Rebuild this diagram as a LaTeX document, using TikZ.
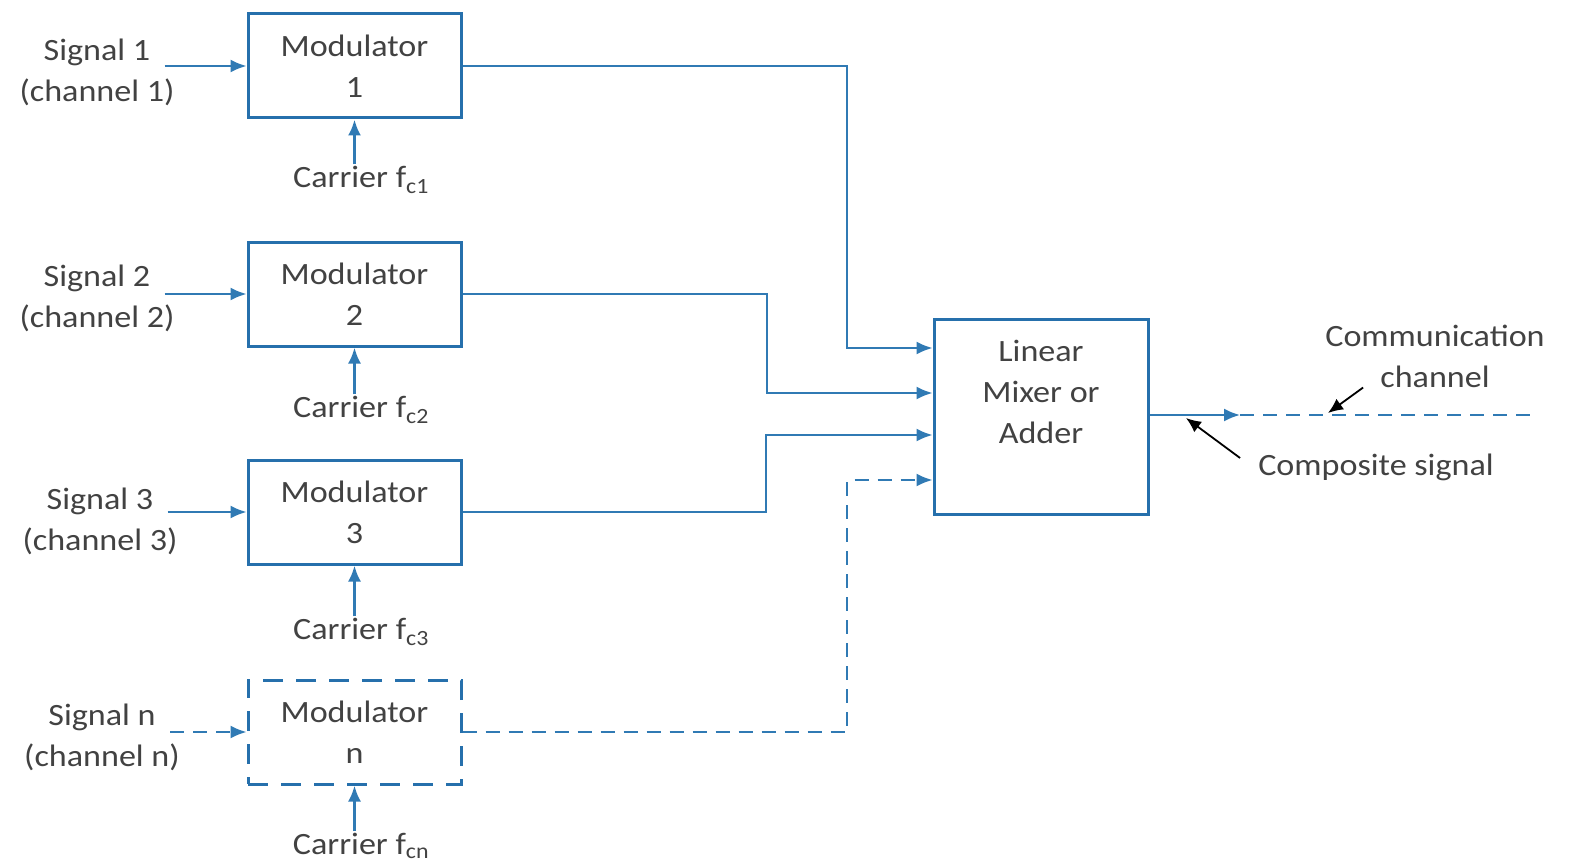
\documentclass[tikz,border=0pt]{standalone}
\usepackage{fontspec}
\setmainfont{Carlito}[FakeStretch=1.1]
\usepackage{tikz}
\usetikzlibrary{arrows.meta,positioning,calc}
\definecolor{BoxBlue}{RGB}{38,112,172}
\definecolor{LineBlue}{RGB}{48,122,180}
\definecolor{TxtGray}{RGB}{66,66,66}

\begin{document}
\begin{tikzpicture}[
    x=1pt,y=-1pt,
    font=\fontsize{31}{41}\selectfont,
    modbox/.style={draw=BoxBlue, line width=3pt, minimum width=213pt, minimum height=104pt, align=center, inner sep=0pt, text=TxtGray},
    lbl/.style={align=center, inner sep=2pt, text=TxtGray},
    sig/.style={draw=LineBlue, line width=2pt},
    tip/.style={-{Latex[length=16pt,width=13pt]}},
    dashline/.style={dash pattern=on 14pt off 9pt},
    ptr/.style={draw=black, line width=1.8pt, -{Latex[length=15pt,width=13pt]}}
  ]
    \useasboundingbox (0,0) rectangle (1572,864);
    % modulators
    \foreach \i/\y in {1/66,2/294,3/512} {\node[modbox] (mod\i) at (354.5,\y) {Modulator\\\i};}
    \node[modbox, dash pattern=on 20pt off 13pt] (modn) at (354.5,732) {Modulator\\n};
    % inputs and carriers
    \foreach \i/\x/\y in {1/97/72,2/97/298,3/100/521,n/102/737} {
      \node[lbl] (sig\i) at (\x,\y) {Signal \i\\(channel \i)};
    }
    \foreach \i/\y in {1/180,2/410,3/632,n/846} {
      \node[lbl] (car\i) at (361,\y) {Carrier f\textsubscript{c\i}};
    }
    \foreach \i in {1,2,3} {
      \draw[sig,tip] ([xshift=-12pt]sig\i.east |- mod\i.west) -- (mod\i.west);
      \draw[sig,line width=2.8pt,tip] (car\i.north -| mod\i.south) -- (mod\i.south);
    }
    \draw[sig,dashline,tip] ([xshift=-12pt]sign.east |- modn.west) -- (modn.west);
    \draw[sig,line width=2.8pt,tip] (carn.north -| modn.south) -- (modn.south);
    % mixer
    \node[modbox, minimum width=214pt, minimum height=195pt] (mixer) at (1041,417) {};
    \node[lbl] (mixtxt) at (1041,392) {Linear\\Mixer or\\Adder};
    \coordinate (in1) at (mixer.west |- 0,348);
    \coordinate (in2) at (mixer.west |- 0,393);
    \coordinate (in3) at (mixer.west |- 0,435);
    \coordinate (in4) at (mixer.west |- 0,480);
    \draw[sig,tip] (mod1.east) -| (847,348) -- (in1);
    \draw[sig,tip] (mod2.east) -| (767,393) -- (in2);
    \draw[sig,tip] (mod3.east) -| (766,435) -- (in3);
    \draw[sig,dashline,tip] (modn.east) -| (847,480) -- (in4);
    % output channel
    \coordinate (out) at (1240,415);
    \coordinate (chanend) at (1535,415);
    \draw[sig,tip] (mixer.east |- out) -- (out);
    \draw[sig,dashline] (out) -- (chanend);
    \node[lbl] (comm) at (1435,356) {Communication\\channel};
    \node[lbl] (comp) at (1376,467) {Composite signal};
    \coordinate (commtip) at (1328,413);
    \coordinate (comptip) at (1186,418);
    \draw[ptr] ([shift={(40pt,2pt)}]comm.south west) -- (commtip);
    \draw[ptr] ([shift={(-16pt,9pt)}]comp.west) -- (comptip);
  \end{tikzpicture}
\end{document}
